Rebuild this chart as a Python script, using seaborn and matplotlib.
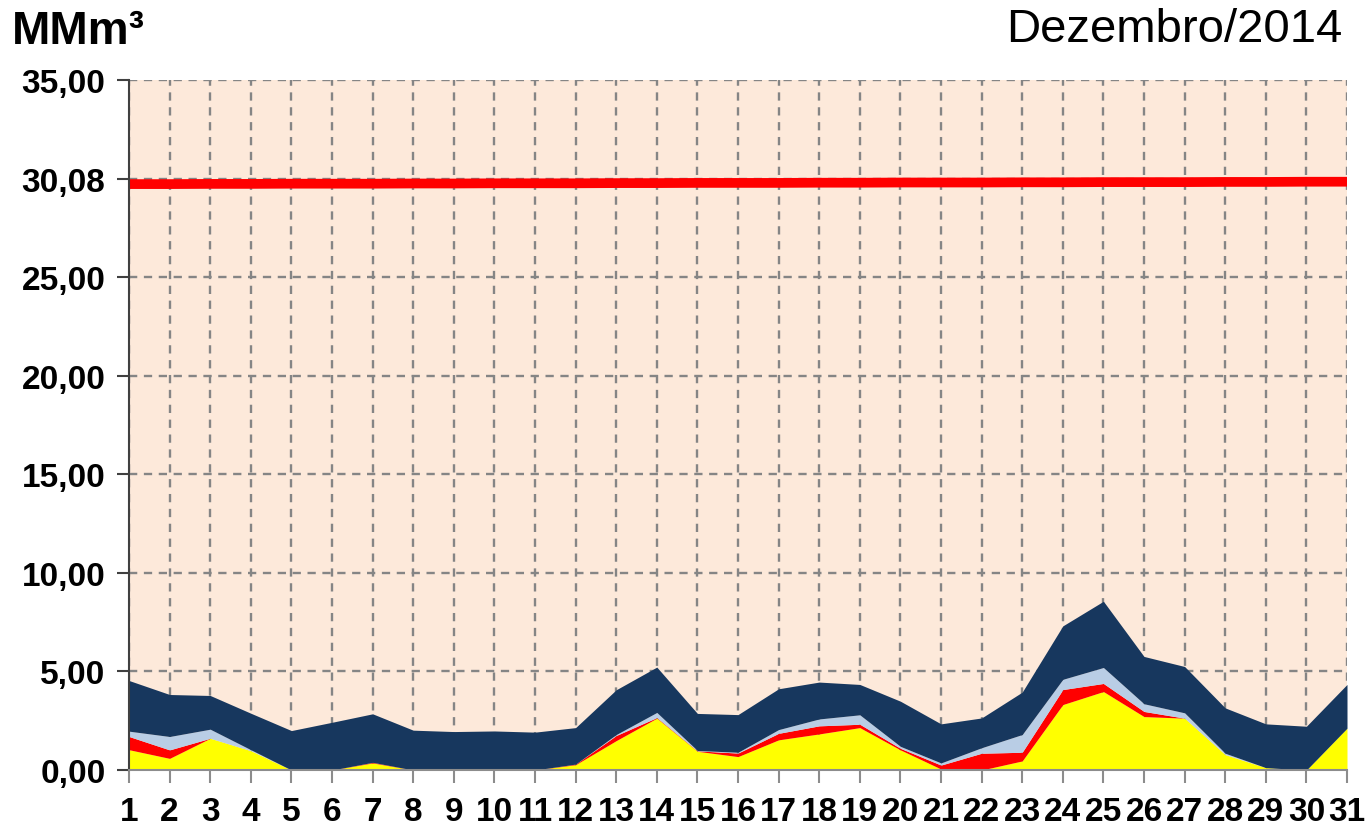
import matplotlib
matplotlib.use("Agg")
import matplotlib.pyplot as plt
import seaborn as sns
import numpy as np
import pandas as pd

days = list(range(1, 32))
yellow = [1.03, 0.59, 1.61, 0.98, 0.00, 0.00, 0.36, 0.00, 0.00, 0.00, 0.00, 0.27, 1.49, 2.63, 0.95, 0.68,
          1.53, 1.83, 2.15, 1.02, 0.05, 0.00, 0.46, 3.32, 3.98, 2.71, 2.63, 0.78, 0.12, 0.00, 2.12]
red = [0.67, 0.43, 0.00, 0.00, 0.00, 0.00, 0.03, 0.00, 0.00, 0.00, 0.00, 0.03, 0.26, 0.03, 0.02, 0.18,
       0.33, 0.41, 0.17, 0.08, 0.20, 0.85, 0.44, 0.76, 0.41, 0.26, 0.00, 0.00, 0.00, 0.00, 0.00]
lightblue = [0.27, 0.68, 0.46, 0.05, 0.00, 0.00, 0.00, 0.00, 0.00, 0.00, 0.00, 0.00, 0.05, 0.26, 0.02, 0.04,
             0.19, 0.35, 0.48, 0.10, 0.11, 0.28, 0.90, 0.52, 0.81, 0.39, 0.27, 0.07, 0.00, 0.00, 0.00]
navy = [2.57, 2.13, 1.71, 1.85, 2.00, 2.42, 2.46, 2.02, 1.95, 1.98, 1.92, 1.85, 2.27, 2.30, 1.88, 1.91,
        2.07, 1.87, 1.54, 2.29, 1.98, 1.51, 2.15, 2.71, 3.36, 2.40, 2.35, 2.30, 2.22, 2.22, 2.22]
limit_line = [29.72, 29.72, 29.73, 29.73, 29.74, 29.74, 29.74, 29.75, 29.75, 29.76, 29.76, 29.76, 29.77, 29.77,
              29.78, 29.78, 29.78, 29.79, 29.79, 29.80, 29.80, 29.80, 29.81, 29.81, 29.82, 29.82, 29.82, 29.83,
              29.83, 29.84, 29.84]
ytick_values = [0, 5, 10, 15, 20, 25, 30, 35]
ytick_labels = ["0,00", "5,00", "10,00", "15,00", "20,00", "25,00", "30,08", "35,00"]
title_left = "MMm³"
title_right = "Dezembro/2014"

sns.set_theme(style="white")
plt.rcParams['font.family'] = ['Liberation Sans', 'DejaVu Sans']
plt.rcParams['text.color'] = 'black'

fig = plt.figure(figsize=(13.66, 8.28), dpi=100)
ax = fig.add_axes([129 / 1366, 1 - 771 / 828, (1347 - 129) / 1366, (771 - 81) / 828])
ax.set_facecolor("#FDE9DA")

df = pd.DataFrame({"day": days, "yellow": yellow, "red": red, "lightblue": lightblue, "navy": navy,
                   "limit": limit_line})

colors = ["#FFFF00", "#FF0000", "#B9CDE5", "#17375E"]
ax.stackplot(df["day"], df["yellow"], df["red"], df["lightblue"], df["navy"], colors=colors,
             linewidth=0, zorder=2)

sns.lineplot(data=df, x="day", y="limit", color="#FF0000", linewidth=7, ax=ax, zorder=3,
             legend=False)

ax.set_xlim(1, 31)
ax.set_ylim(0, 35)
ax.set_xticks(days)
ax.set_xticklabels([str(d) for d in days], fontsize=24, fontweight="bold")
ax.set_yticks(ytick_values)
ax.set_yticklabels(ytick_labels, fontsize=24, fontweight="bold")
ax.set_xlabel("")
ax.set_ylabel("")

ax.grid(True, which="major", axis="both", color="#858585", linestyle=(0, (3.5, 2.8)), linewidth=1.7, zorder=1)
ax.set_axisbelow(True)
for s in ["top", "right"]:
    ax.spines[s].set_visible(False)
ax.spines["left"].set_color("#404040")
ax.spines["left"].set_linewidth(1.5)
ax.spines["bottom"].set_color("#8C8C8C")
ax.spines["bottom"].set_linewidth(1.5)
ax.spines["left"].set_zorder(5)
ax.spines["bottom"].set_zorder(5)
ax.tick_params(axis="x", direction="out", length=9, width=1.5, color="#8C8C8C", pad=10, bottom=True,
               labelcolor="black")
ax.tick_params(axis="y", direction="out", length=9, width=1.5, color="#404040", pad=8, left=True,
               labelcolor="black")

fig.text(12 / 1366, 1 - 32 / 828, title_left, fontsize=33, fontweight="bold", ha="left", va="center",
         color="black")
fig.text(1342 / 1366, 1 - 30 / 828, title_right, fontsize=34, ha="right", va="center", color="black")

fig.savefig("out.png", dpi=100)
